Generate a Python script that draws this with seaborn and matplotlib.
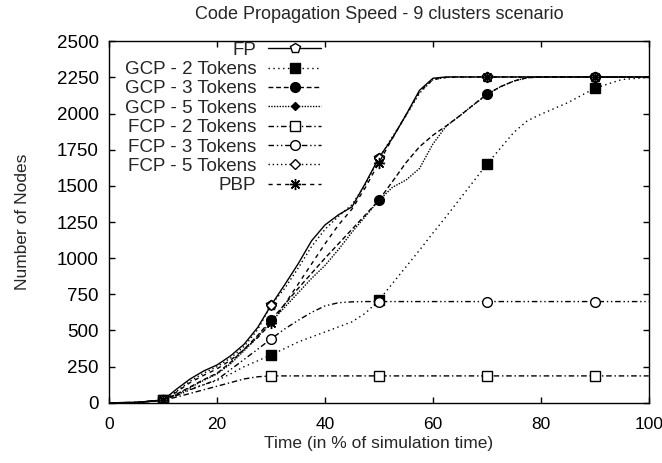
import seaborn as sns
import matplotlib.pyplot as plt

sns.set_theme(style="ticks")
plt.rcParams['font.family'] = ['Liberation Sans', 'DejaVu Sans']

# time axis (% of simulation time)
time = [0, 5, 10, 12.5, 15, 17.5, 20, 22.5, 25, 27.5, 30, 32.5, 35, 37.5, 40,
        42.5, 45, 47.5, 50, 52.5, 55, 57.5, 60, 62.5, 65, 67.5, 70, 72.5, 75,
        77.5, 80, 85, 90, 95, 100]

fp = [0, 3, 20, 95, 165, 220, 262, 325, 405, 520, 675, 815, 960, 1120, 1230,
      1300, 1355, 1520, 1695, 1830, 1990, 2160, 2244, 2253, 2253, 2253, 2253,
      2253, 2253, 2253, 2253, 2253, 2253, 2253, 2253]
gcp2 = [0, 2, 18, 55, 95, 125, 155, 200, 250, 290, 331, 375, 420, 455, 490,
        525, 560, 620, 710, 825, 940, 1055, 1174, 1290, 1410, 1530, 1650, 1760,
        1870, 1950, 1995, 2075, 2175, 2235, 2250]
gcp3 = [0, 2, 18, 60, 110, 160, 205, 280, 370, 465, 573, 680, 790, 895, 1000,
        1100, 1200, 1300, 1402, 1530, 1660, 1770, 1850, 1915, 1985, 2060, 2134,
        2185, 2225, 2248, 2252, 2252, 2252, 2252, 2252]
gcp5 = [0, 2, 18, 58, 105, 155, 200, 270, 360, 455, 560, 660, 760, 860, 950,
        1060, 1180, 1290, 1400, 1490, 1540, 1620, 1790, 1915, 1985, 2060, 2130,
        2185, 2225, 2248, 2252, 2252, 2252, 2252, 2252]
fcp2 = [0, 2, 18, 40, 65, 90, 115, 140, 165, 180, 186, 186, 186, 186, 186,
        186, 186, 186, 186, 186, 186, 186, 186, 186, 186, 186, 186, 186, 186,
        186, 186, 186, 186, 186, 186]
fcp3 = [0, 2, 18, 50, 90, 125, 160, 230, 300, 370, 442, 510, 570, 625, 670,
        692, 698, 700, 700, 700, 700, 700, 700, 700, 700, 700, 700, 700, 700,
        700, 700, 700, 700, 700, 700]
fcp5 = [0, 2, 18, 80, 150, 205, 250, 310, 390, 505, 677, 790, 930, 1080, 1200,
        1290, 1370, 1510, 1690, 1840, 1985, 2140, 2235, 2250, 2252, 2252, 2252,
        2252, 2252, 2252, 2252, 2252, 2252, 2252, 2252]
pbp = [0, 2, 18, 75, 140, 190, 235, 295, 370, 450, 550, 680, 820, 960, 1100,
       1230, 1340, 1490, 1660, 1830, 1990, 2150, 2235, 2250, 2252, 2252, 2252,
       2252, 2252, 2252, 2252, 2252, 2252, 2252, 2252]

marker_times = [10, 30, 50, 70, 90]
marks = [time.index(t) for t in marker_times]

series = [
    ('FP', fp, '-', 'p', 'white', 7.5),
    ('GCP - 2 Tokens', gcp2, (0, (1, 2.5)), 's', 'black', 6.5),
    ('GCP - 3 Tokens', gcp3, (0, (3.5, 2)), 'o', 'black', 7),
    ('GCP - 5 Tokens', gcp5, (0, (1, 1)), 'D', 'black', 4.5),
    ('FCP - 2 Tokens', fcp2, (0, (4, 2, 1, 2)), 's', 'white', 7),
    ('FCP - 3 Tokens', fcp3, (0, (4, 2, 1, 2, 1, 2)), 'o', 'white', 7),
    ('FCP - 5 Tokens', fcp5, (0, (1, 2)), 'D', 'white', 5.5),
    ('PBP', pbp, (0, (3, 3)), (8, 2, 0), 'black', 8),
]

fig, ax = plt.subplots(figsize=(6.62, 4.63), dpi=100)
fig.subplots_adjust(left=0.165, right=0.98, top=0.911, bottom=0.13)

for name, vals, ls, mk, fc, ms in series:
    sns.lineplot(x=time, y=vals, ax=ax, color='black', linewidth=1.0,
                 linestyle=ls, marker=mk, markerfacecolor=fc,
                 markeredgecolor='black', markeredgewidth=1.0,
                 markersize=ms, markevery=marks, label=name)

ax.set_xlim(0, 100)
ax.set_ylim(0, 2500)
ax.set_xticks(range(0, 101, 20))
ax.set_yticks(range(0, 2501, 250))
ax.tick_params(direction='in', length=4.5, width=1, top=True, right=True,
               labelsize=13.5, colors='black')
ax.tick_params(axis='x', pad=10.5, labelsize=12.5)
ax.tick_params(axis='y', pad=7.5)
for sp in ax.spines.values():
    sp.set_color('black')
    sp.set_linewidth(1)

ax.set_title('Code Propagation Speed - 9 clusters scenario', fontsize=13,
             pad=16)
ax.set_xlabel('Time (in % of simulation time)', fontsize=12.5, labelpad=2.5)
ax.set_ylabel('Number of Nodes', fontsize=12.5, labelpad=19)

ax.legend(loc='upper right', bbox_to_anchor=(0.413, 1.03), frameon=False,
          markerfirst=False, numpoints=1, fontsize=13.5, handlelength=2.8,
          handletextpad=0.64, labelspacing=0.12, borderaxespad=0.2)

plt.savefig('out.png')
